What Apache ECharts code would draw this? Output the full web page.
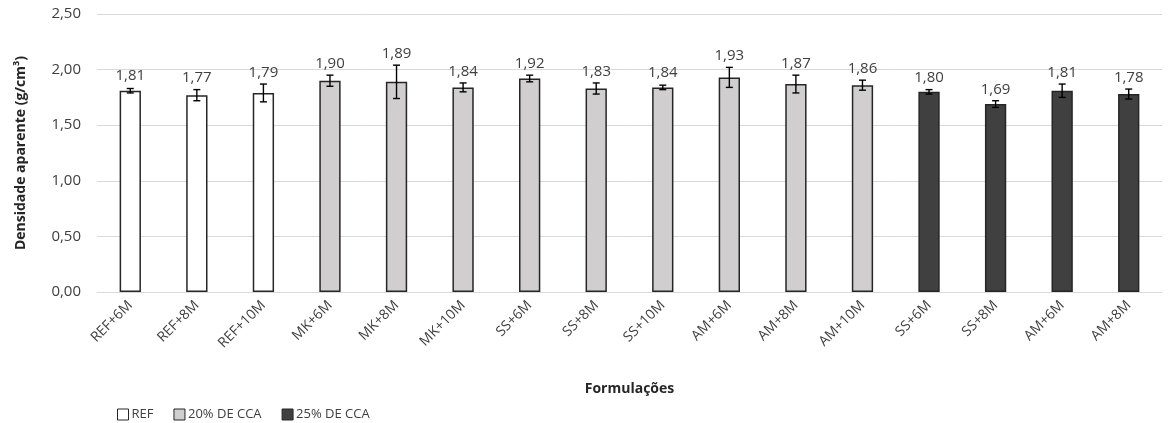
<!DOCTYPE html>
<html>
<head>
<meta charset="utf-8">
<script src="https://cdn.jsdelivr.net/npm/echarts@6/dist/echarts.min.js"></script>
<style>
html,body{margin:0;padding:0;background:#fff;}
#chart{width:1168px;height:423px;}
</style>
</head>
<body>
<div id="chart"></div>
<script>
const categories = ["REF+6M","REF+8M","REF+10M","MK+6M","MK+8M","MK+10M","SS+6M","SS+8M","SS+10M","AM+6M","AM+8M","AM+10M","SS+6M","SS+8M","AM+6M","AM+8M"];
const values = [1.81,1.77,1.79,1.90,1.89,1.84,1.92,1.83,1.84,1.93,1.87,1.86,1.80,1.69,1.81,1.78];
const errors = [0.02,0.05,0.08,0.05,0.15,0.04,0.03,0.05,0.02,0.09,0.08,0.045,0.02,0.03,0.06,0.045];
const groups = [0,0,0,1,1,1,1,1,1,1,1,1,2,2,2,2];
const groupNames = ["REF","20% DE CCA","25% DE CCA"];
const groupColors = ["#ffffff","#d0cece","#404040"];
const yTicks = ["0,00","0,50","1,00","1,50","2,00","2,50"];

const FONT = "'Open Sans', 'Noto Sans', sans-serif";
const chart = echarts.init(document.getElementById('chart'), null, {renderer:'canvas'});

const fmt = v => v.toFixed(2).replace('.', ',');

const barSeries = groupNames.map((name, g) => ({
  name: name,
  type: 'bar',
  stack: 'all',
  barWidth: '32%',
  itemStyle: {color: groupColors[g], borderColor: '#262626', borderWidth: 1.5},
  label: {
    show: true, position: 'top', color: '#404040', fontSize: 15, fontFamily: FONT,
    formatter: p => fmt(p.value)
  },
  data: values.map((v, i) => {
    if (groups[i] !== g) return '-';
    const errPx = errors[i] * 111.2;
    return {value: v, label: {distance: Math.max(7, errPx + 4)}};
  }),
  z: 2
}));

const errSeries = {
  type: 'custom',
  name: 'err',
  z: 5,
  silent: true,
  data: values.map((v, i) => [i, v - errors[i], v + errors[i]]),
  renderItem: function (params, api) {
    const x = api.value(0);
    const lo = api.coord([x, api.value(1)]);
    const hi = api.coord([x, api.value(2)]);
    const cw = 3.5;
    const st = {stroke: '#000', lineWidth: 1.4};
    return {
      type: 'group',
      children: [
        {type: 'line', shape: {x1: lo[0], y1: lo[1], x2: hi[0], y2: hi[1]}, style: st},
        {type: 'line', shape: {x1: lo[0]-cw, y1: lo[1], x2: lo[0]+cw, y2: lo[1]}, style: st},
        {type: 'line', shape: {x1: hi[0]-cw, y1: hi[1], x2: hi[0]+cw, y2: hi[1]}, style: st}
      ]
    };
  }
};

chart.setOption({
  animation: false,
  backgroundColor: '#fff',
  grid: {left: 97, right: 6, top: 14, bottom: 131, containLabel: false},
  legend: {
    data: groupNames,
    left: 112, top: 403,
    itemWidth: 11, itemHeight: 11, itemGap: 20,
    icon: 'rect',
    textStyle: {color: '#404040', fontSize: 13, fontFamily: FONT, padding: [0,0,0,-2]},
    itemStyle: {borderColor: '#262626', borderWidth: 1}
  },
  xAxis: {
    type: 'category',
    data: categories,
    name: 'Formulações',
    nameLocation: 'middle',
    nameGap: 90,
    nameTextStyle: {fontWeight: 'bold', fontSize: 14, color: '#262626', fontFamily: FONT},
    axisLine: {lineStyle: {color: '#d9d9d9'}},
    axisTick: {show: false},
    axisLabel: {rotate: 45, color: '#404040', fontSize: 14, fontFamily: FONT, margin: 11, interval: 0}
  },
  yAxis: {
    type: 'value',
    min: 0, max: 2.5, interval: 0.5,
    name: 'Densidade aparente (g/cm³)',
    nameLocation: 'middle',
    nameGap: 69,
    nameTextStyle: {fontWeight: 'bold', fontSize: 14, color: '#262626', fontFamily: FONT},
    axisLine: {show: false},
    axisTick: {show: false},
    splitLine: {lineStyle: {color: '#d9d9d9'}},
    axisLabel: {
      color: '#404040', fontSize: 15, fontFamily: FONT, margin: 16,
      formatter: (v) => yTicks[Math.round(v / 0.5)]
    }
  },
  series: [...barSeries, errSeries]
});
</script>
</body>
</html>
